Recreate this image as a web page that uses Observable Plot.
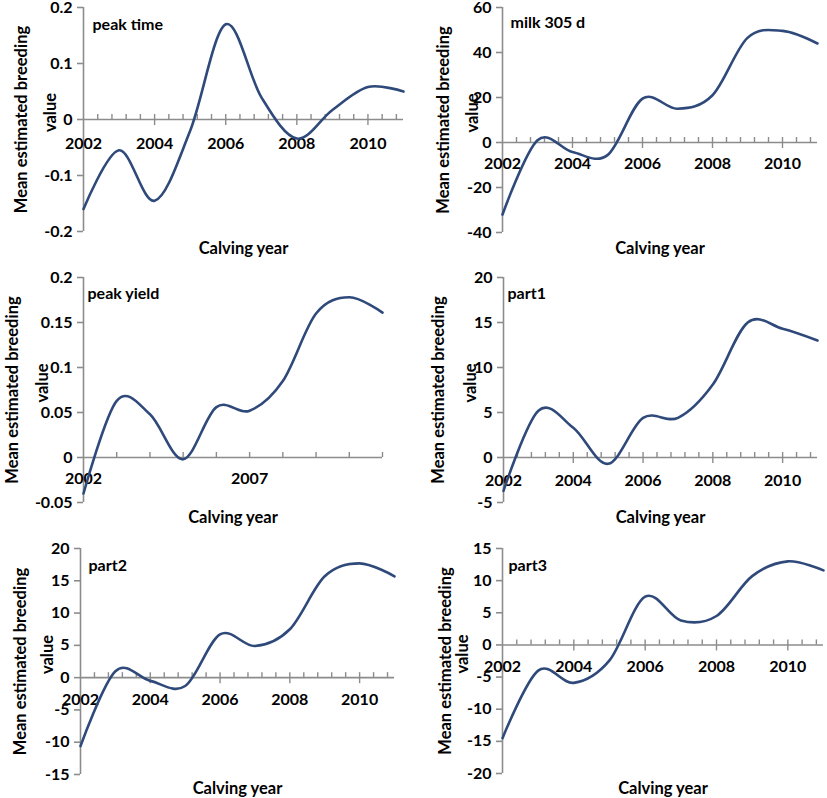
<!DOCTYPE html>
<html><head><meta charset="utf-8">
<script src="https://cdn.jsdelivr.net/npm/d3@7"></script>
<script src="https://cdn.jsdelivr.net/npm/@observablehq/plot@0.6"></script>
<style>
html,body{margin:0;padding:0;background:#fff;}
#chart{position:relative;width:827px;height:798px;overflow:hidden;background:#fff;}
.panel{position:absolute;}
.panel svg{display:block;overflow:visible;}
</style></head><body><div id="chart"></div>
<script>
// ---- data ----
const years = [2002, 2003, 2004, 2005, 2006, 2007, 2008, 2009, 2010, 2011];
const peakTime  = [-0.16, -0.055, -0.145, -0.02, 0.17, 0.04, -0.034, 0.017, 0.058, 0.05];
const milk305d  = [-32, 1.0, -4.2, -5.6, 19.5, 15, 21, 46.5, 49.6, 44];
const peakYield = [-0.04, 0.063, 0.048, -0.002, 0.056, 0.052, 0.085, 0.16, 0.178, 0.161];
const part1     = [-3.7, 5.2, 3.3, -0.7, 4.4, 4.4, 8.1, 15, 14.3, 13];
const part2     = [-10.6, 1.0, -0.5, -1.3, 6.7, 4.9, 7.5, 15.7, 17.7, 15.7];
const part3     = [-14.5, -4.0, -5.9, -2.4, 7.5, 3.8, 4.5, 10.7, 13, 11.6];

const titles = ["peak time", "milk 305 d", "peak yield", "part1", "part2", "part3"];
const yTicksPeakTime  = [-0.2, -0.1, 0, 0.1, 0.2];
const yTicksMilk      = [-40, -20, 0, 20, 40, 60];
const yTicksPeakYield = [-0.05, 0, 0.05, 0.1, 0.15, 0.2];
const yTicksPart1     = [-5, 0, 5, 10, 15, 20];
const yTicksPart2     = [-15, -10, -5, 0, 5, 10, 15, 20];
const yTicksPart3     = [-20, -15, -10, -5, 0, 5, 10, 15];
const xLabelsEven     = [2002, 2004, 2006, 2008, 2010];
const xLabelsPeakYield = [2002, 2007];
const xTitle = "Calving year";
const yTitle1 = "Mean estimated breeding";
const yTitle2 = "value";

// ---- layout ----
const panels = [
  {values: peakTime, title: titles[0], yTicks: yTicksPeakTime, xLabels: xLabelsEven, major: 2,
   left: 0, top: 0, w: 413, h: 262, mL: 83, mR: 10, mT: 7, mB: 31,
   tdx: 9, tdy: 17, t1: -62, t2: -33, lab: 24, xt: 17},
  {values: milk305d, title: titles[1], yTicks: yTicksMilk, xLabels: xLabelsEven, major: 2,
   left: 413, top: 0, w: 414, h: 262, mL: 89, mR: 10, mT: 7, mB: 30,
   tdx: 8, tdy: 15, t1: -59, t2: -30, lab: 21, xt: 16},
  {values: peakYield, title: titles[2], yTicks: yTicksPeakYield, xLabels: xLabelsPeakYield, major: 5,
   left: 0, top: 262, w: 413, h: 263, mL: 83, mR: 31, mT: 15, mB: 23,
   tdx: 4, tdy: 16, t1: -71, t2: -41, lab: 21, xt: 15},
  {values: part1, title: titles[3], yTicks: yTicksPart1, xLabels: xLabelsEven, major: 2,
   left: 413, top: 262, w: 414, h: 263, mL: 90, mR: 10, mT: 15, mB: 23,
   tdx: 4, tdy: 16, t1: -65, t2: -33, lab: 23, xt: 15},
  {values: part2, title: titles[4], yTicks: yTicksPart2, xLabels: xLabelsEven, major: 2,
   left: 0, top: 525, w: 413, h: 273, mL: 80, mR: 19, mT: 23, mB: 24,
   tdx: 8, tdy: 17, t1: -60, t2: -33, lab: 22, xt: 14},
  {values: part3, title: titles[5], yTicks: yTicksPart3, xLabels: xLabelsEven, major: 2,
   left: 413, top: 525, w: 414, h: 273, mL: 89, mR: 4, mT: 23, mB: 25,
   tdx: 6, tdy: 17, t1: -57, t2: -40, lab: 22, xt: 15}
];

const AXIS = "#8c8c8c";
const LINE = "#2f4a7a";
const FONT = "Lato, 'Open Sans', sans-serif";
const x0 = years[0], x1 = years[years.length - 1];

const chart = document.getElementById("chart");
for (const p of panels) {
  const yMin = d3.min(p.yTicks), yMax = d3.max(p.yTicks);
  const table = years.map((yr, i) => ({year: yr, value: p.values[i]}));
  // tick positions along the x axis (Excel style: minor unit = major / 5, or 1 year)
  const minorStep = p.major === 2 ? 0.4 : 1;
  const nSteps = Math.round((x1 - x0) / minorStep);
  const allTicks = d3.range(1, nSteps + 1).map(k => +(x0 + k * minorStep).toFixed(2)).filter(v => v <= x1 + 1e-9);
  const majorTicks = p.major === 2 ? allTicks.filter(v => Math.abs(v - Math.round(v)) < 1e-6 && Math.round(v) % 2 === 0) : [];
  const minorTicks = allTicks.filter(v => !majorTicks.includes(v));

  const svg = Plot.plot({
    width: p.w, height: p.h,
    marginLeft: p.mL, marginRight: p.mR, marginTop: p.mT, marginBottom: p.mB,
    x: {domain: [x0, x1], axis: null},
    y: {domain: [yMin, yMax], axis: null},
    style: {fontFamily: FONT, fontSize: "16px", fontWeight: 700, color: "#000", background: "transparent", overflow: "visible"},
    marks: [
      // y axis line and ticks
      Plot.ruleX([x0], {y1: () => yMin, y2: () => yMax, stroke: AXIS, strokeWidth: 1.6}),
      Plot.ruleY(p.yTicks, {y: d => d, x1: () => x0, x2: () => x0, insetLeft: -6, stroke: AXIS, strokeWidth: 1.6}),
      Plot.text(p.yTicks, {x: () => x0, y: d => d, text: d => String(d), textAnchor: "end", dx: -11, fill: "#000", fontSize: 16, fontWeight: 700}),
      // x axis at zero
      Plot.ruleY([0], {x1: () => x0, x2: () => x1, stroke: AXIS, strokeWidth: 1.6}),
      Plot.ruleX(minorTicks, {x: d => d, y1: () => 0, y2: () => 0, insetTop: -5, stroke: AXIS, strokeWidth: 1.4}),
      Plot.ruleX(majorTicks, {x: d => d, y1: () => 0, y2: () => 0, insetTop: -5, insetBottom: -6, stroke: AXIS, strokeWidth: 1.4}),
      Plot.text(p.xLabels, {x: d => d, y: () => 0, text: d => String(d), dy: p.lab, fill: "#000", fontSize: 16, fontWeight: 700}),
      // series
      Plot.line(table, {x: "year", y: "value", curve: "cardinal", stroke: LINE, strokeWidth: 2.6}),
      // panel title
      Plot.text([p.title], {x: () => x0, y: () => yMax, text: d => d, textAnchor: "start", dx: p.tdx, dy: p.tdy, fill: "#000", fontSize: 16, fontWeight: 700}),
      // axis titles
      Plot.text([xTitle], {frameAnchor: "bottom", text: d => d, dy: p.xt, textAnchor: "middle", lineAnchor: "middle", fill: "#000", fontSize: 16.5, fontWeight: 700}),
      Plot.text([yTitle1], {frameAnchor: "left", text: d => d, rotate: -90, dx: p.t1, textAnchor: "middle", lineAnchor: "middle", fill: "#000", fontSize: 16.5, fontWeight: 700}),
      Plot.text([yTitle2], {frameAnchor: "left", text: d => d, rotate: -90, dx: p.t2, dy: -7, textAnchor: "middle", lineAnchor: "middle", fill: "#000", fontSize: 16.5, fontWeight: 700})
    ]
  });
  const div = document.createElement("div");
  div.className = "panel";
  div.style.left = p.left + "px";
  div.style.top = p.top + "px";
  div.appendChild(svg);
  chart.appendChild(div);
}
</script>
</body></html>
